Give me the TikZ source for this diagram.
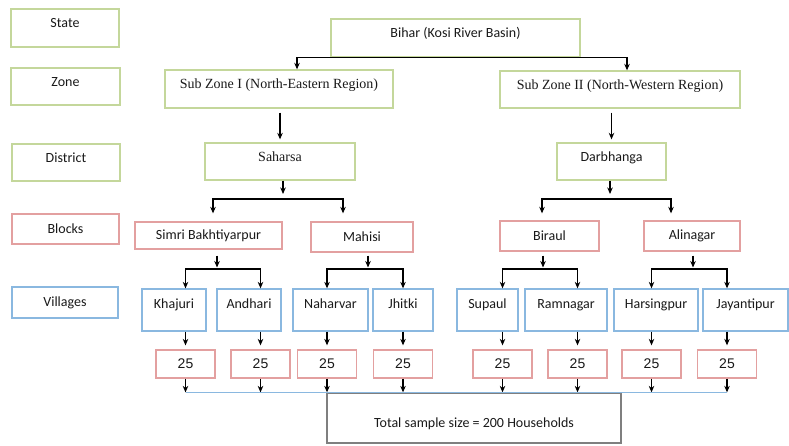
\documentclass[tikz,border=0pt]{standalone}
\usepackage{fontspec}
\setmainfont{Carlito}
\newfontfamily\serifnames{Liberation Serif}
\newfontfamily\arialnums{Liberation Sans}
\usetikzlibrary{arrows.meta,calc}

\definecolor{lvlgreen}{HTML}{C4D79B}
\definecolor{lvlred}{HTML}{E3A0A0}
\definecolor{lvlblue}{HTML}{8AB8E0}
\definecolor{totgray}{HTML}{7F7F7F}

\tikzset{
  box/.style={draw, line width=1.3pt, inner sep=0pt, text=black!90, font=\fontsize{14}{16}\selectfont},
  gbox/.style={box, draw=lvlgreen},
  rbox/.style={box, draw=lvlred},
  bbox/.style={box, draw=lvlblue},
  upper/.style={text height=18.5pt, text depth=#1},
  hhbox/.style={rbox, minimum width=59, minimum height=28, font=\arialnums\fontsize{14}{16}\selectfont},
  vbox/.style={bbox, minimum height=42, text height=19.5pt, text depth=22.5pt},
  arr/.style={-{Stealth[length=6.5pt,width=5.5pt]}, line width=1.1pt},
}

\begin{document}
\begin{tikzpicture}[x=1pt,y=-1pt]
  \useasboundingbox (0,0) rectangle (789,445);

  \node[gbox, minimum width=108, minimum height=38, upper=19.5pt] (state) at (65,28) {State};
  \node[gbox, minimum width=109, minimum height=37, upper=18.5pt] (zone) at (65.5,86.5) {Zone};
  \node[gbox, minimum width=108, minimum height=37, upper=18.5pt] (district) at (66,162.5) {District};
  \node[rbox, minimum width=107, minimum height=30] (blocks) at (65.5,229) {Blocks};
  \node[bbox, minimum width=106, minimum height=31] (villages) at (65,302.5) {Villages};

  \node[gbox, minimum width=249, minimum height=38, upper=19.5pt] (bihar) at (455.5,38) {Bihar (Kosi River Basin)};
  \node[gbox, minimum width=228, minimum height=38, upper=19.5pt, font=\serifnames\fontsize{14}{16}\selectfont] (sz1) at (279,89) {Sub Zone I (North-Eastern Region)};
  \node[gbox, minimum width=240, minimum height=37, upper=18.5pt, font=\serifnames\fontsize{14}{16}\selectfont] (sz2) at (620,89.5) {Sub Zone II (North-Western Region)};
  \node[gbox, minimum width=150, minimum height=37, upper=18.5pt, font=\serifnames\fontsize{14}{16}\selectfont] (saharsa) at (280,161.5) {Saharsa};
  \node[gbox, minimum width=109, minimum height=37, upper=18.5pt] (darbhanga) at (611.5,161.5) {Darbhanga};

  \node[rbox, minimum width=147, minimum height=27] (simri) at (208.5,235.5) {Simri Bakhtiyarpur};
  \node[rbox, minimum width=102, minimum height=30] (mahisi) at (362,237) {Mahisi};
  \node[rbox, minimum width=99, minimum height=30] (biraul) at (549.5,236) {Biraul};
  \node[rbox, minimum width=96, minimum height=30] (alinagar) at (692,236) {Alinagar};

  \node[vbox, minimum width=64] (khajuri) at (174,310) {Khajuri};
  \node[vbox, minimum width=64] (andhari) at (249,310) {Andhari};
  \node[vbox, minimum width=75] (naharvar) at (330.5,310) {Naharvar};
  \node[vbox, minimum width=60] (jhitki) at (403,310) {Jhitki};
  \node[vbox, minimum width=61] (supaul) at (487.5,310) {Supaul};
  \node[vbox, minimum width=82] (ramnagar) at (566,310) {Ramnagar};
  \node[vbox, minimum width=84] (harsingpur) at (656,310) {Harsingpur};
  \node[vbox, minimum width=85] (jayantipur) at (745.5,310) {Jayantipur};

  \node[hhbox] (hh1) at (185.5,364) {25}; \node[hhbox] (hh2) at (260.5,364) {25};
  \node[hhbox] (hh3) at (327,364) {25};   \node[hhbox] (hh4) at (403,364) {25};
  \node[hhbox] (hh5) at (502.5,364) {25}; \node[hhbox] (hh6) at (577.5,364) {25};
  \node[hhbox] (hh7) at (651.5,364) {25}; \node[hhbox] (hh8) at (727,364) {25};

  \node[box, draw=totgray, minimum width=294, minimum height=50, text height=34pt, text depth=16pt] (total) at (474,418) {Total sample size = 200 Households};

  \draw[arr] (bihar.south) -| ([xshift=18]sz1.north);
  \draw[arr] (bihar.south) -| ([xshift=7]sz2.north);
  \draw[arr, shorten <=4pt, shorten >=3pt] (sz1.south -| saharsa) -- (saharsa.north);
  \draw[arr, shorten <=4pt, shorten >=3pt] (sz2.south -| darbhanga) -- (darbhanga.north);

  \coordinate (sj) at (283,199); \coordinate (dj) at (610,199);
  \draw[arr, shorten >=5pt] (saharsa.south -| sj) -- (sj);
  \draw[arr, shorten >=8pt] (sj) -| ([xshift=4.5]simri.north);
  \draw[arr, shorten >=8pt] (sj) -| ([xshift=-19]mahisi.north);
  \draw[arr, shorten >=5pt] (darbhanga.south -| dj) -- (dj);
  \draw[arr, shorten >=7pt] (dj) -| ([xshift=-7.5]biraul.north);
  \draw[arr, shorten >=7pt] (dj) -| ([xshift=-21]alinagar.north);

  \coordinate (simj) at (217,269); \coordinate (mahj) at (368,269);
  \coordinate (birj) at (543,269); \coordinate (alij) at (693,269);
  \draw[arr, shorten <=6pt, shorten >=1.5pt] (simri.south -| simj) -- (simj);
  \draw[arr, shorten <=3pt, shorten >=1.5pt] (mahisi.south -| mahj) -- (mahj);
  \draw[arr, shorten <=4pt, shorten >=1.5pt] (biraul.south -| birj) -- (birj);
  \draw[arr, shorten <=4pt, shorten >=1.5pt] (alinagar.south -| alij) -- (alij);
  \draw[arr] (simj) -| (khajuri.north -| hh1); \draw[arr] (simj) -| (andhari.north -| hh2);
  \draw[arr] (mahj) -| (naharvar.north -| hh3); \draw[arr] (mahj) -| (jhitki.north -| hh4);
  \draw[arr] (birj) -| (supaul.north -| hh5); \draw[arr] (birj) -| (ramnagar.north -| hh6);
  \draw[arr] (alij) -| (harsingpur.north -| hh7); \draw[arr] (alij) -| (jayantipur.north -| hh8);

  \draw[arr, shorten >=4pt] (khajuri.south -| hh1) -- (hh1); \draw[arr, shorten >=4pt] (andhari.south -| hh2) -- (hh2);
  \draw[arr, shorten >=4pt] (naharvar.south -| hh3) -- (hh3); \draw[arr, shorten >=4pt] (jhitki.south -| hh4) -- (hh4);
  \draw[arr, shorten >=4pt] (supaul.south -| hh5) -- (hh5); \draw[arr, shorten >=4pt] (ramnagar.south -| hh6) -- (hh6);
  \draw[arr, shorten >=4pt] (harsingpur.south -| hh7) -- (hh7); \draw[arr, shorten >=4pt] (jayantipur.south -| hh8) -- (hh8);

  \draw[arr] (hh1) -- (hh1 |- total.north); \draw[arr] (hh2) -- (hh2 |- total.north);
  \draw[arr] (hh3) -- (hh3 |- total.north); \draw[arr] (hh4) -- (hh4 |- total.north);
  \draw[arr] (hh5) -- (hh5 |- total.north); \draw[arr] (hh6) -- (hh6 |- total.north);
  \draw[arr] (hh7) -- (hh7 |- total.north); \draw[arr] (hh8) -- (hh8 |- total.north);
  \draw[lvlblue, line width=1.4pt] (hh1 |- total.north) -- (hh8 |- total.north);
\end{tikzpicture}
\end{document}
